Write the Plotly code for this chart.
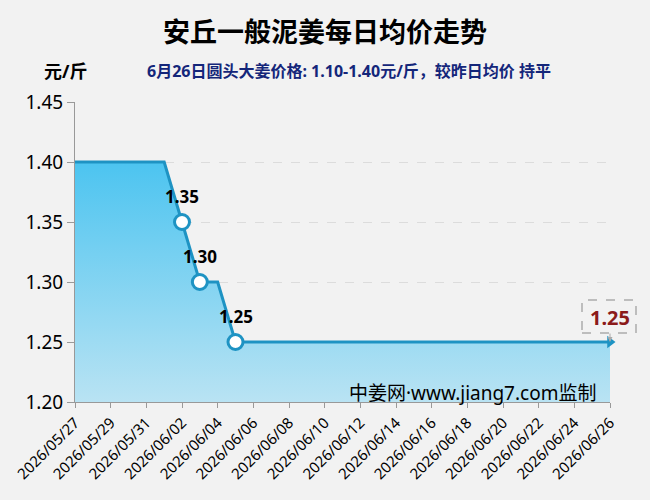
import plotly.graph_objects as go
import pandas as pd

dates = pd.date_range("2026-05-27", "2026-06-26", freq="D").strftime("%Y-%m-%d").tolist()
prices = [1.40, 1.40, 1.40, 1.40, 1.40, 1.40, 1.35, 1.30, 1.30, 1.25] + [1.25] * 21
label_dates = ["2026-06-02", "2026-06-03", "2026-06-05"]
label_prices = [1.35, 1.30, 1.25]
title_text = "安丘一般泥姜每日均价走势"
subtitle_text = "6月26日圆头大姜价格: 1.10-1.40元/斤，较昨日均价 持平"
unit_text = "元/斤"
watermark = "中姜网·www.jiang7.com监制"
last_label = "1.25"

FONT = "Noto Sans, Noto Sans CJK SC"
LINE = "#1e93c3"

fig = go.Figure()
fig.add_trace(go.Scatter(
    x=dates, y=prices, mode="lines",
    line=dict(color=LINE, width=3),
    fill="tozeroy",
    fillgradient=dict(type="vertical", start=1.20, stop=1.40,
                      colorscale=[[0, "#b9e3f3"], [1, "#4cc4f0"]]),
    hoverinfo="skip", showlegend=False,
))
fig.add_trace(go.Scatter(
    x=label_dates, y=label_prices, mode="markers",
    marker=dict(symbol="circle", size=15, color="white", line=dict(color=LINE, width=3)),
    showlegend=False, cliponaxis=False,
))
fig.add_trace(go.Scatter(
    x=[dates[-1]], y=[prices[-1]], mode="markers",
    marker=dict(symbol="triangle-right", size=11, color=LINE),
    showlegend=False, cliponaxis=False,
))

annotations = [
    dict(text=unit_text, xref="paper", yref="paper", x=(65 - 75) / 535, y=1 + 31 / 300,
         xanchor="center", yanchor="middle", showarrow=False,
         font=dict(family=FONT, size=18, color="black", weight="bold")),
    dict(text=subtitle_text, xref="paper", yref="paper", x=(349 - 75) / 535, y=1 + 31 / 300,
         xanchor="center", yanchor="middle", showarrow=False,
         font=dict(family=FONT, size=16, color="#14267a", weight="bold")),
    dict(text=watermark, xref="paper", yref="paper", x=(472 - 75) / 535, y=9 / 300,
         xanchor="center", yanchor="middle", showarrow=False,
         font=dict(family=FONT, size=19, color="black")),
    dict(text=f"<b>{last_label}</b>", x=dates[-1], y=prices[-1], xref="x", yref="y",
         showarrow=True, ax=0, ay=-25, arrowcolor="#aaa", arrowwidth=1, arrowhead=2,
         borderwidth=0, borderpad=3, bgcolor="rgba(0,0,0,0)",
         font=dict(family=FONT, size=20, color="#8b1a1a")),
]
for d, v in zip(label_dates, label_prices):
    annotations.append(dict(text=f"<b>{v:.2f}</b>", x=d, y=v, xref="x", yref="y",
                            showarrow=False, yshift=26,
                            font=dict(family=FONT, size=17, color="black")))

fig.update_layout(
    width=650, height=500,
    margin=dict(l=75, r=40, t=102, b=98),
    paper_bgcolor="#f2f2f2", plot_bgcolor="#f2f2f2",
    font=dict(family=FONT, color="black"),
    title=dict(text=title_text, x=0.5, xanchor="center", y=1 - 33 / 500, yanchor="middle",
               font=dict(family=FONT, size=27, color="black", weight="bold")),
    annotations=annotations,
    shapes=[
        dict(type="rect", xref="paper", yref="paper",
             x0=(582 - 75) / 535, x1=(636 - 75) / 535,
             y0=(402 - 333) / 300, y1=(402 - 300) / 300,
             line=dict(color="#888", width=1, dash="dash"), fillcolor="rgba(0,0,0,0)",
             layer="above"),
    ],
)
fig.update_xaxes(
    type="date", range=[dates[0], dates[-1]],
    tick0=dates[0], dtick=2 * 86400000, tickformat="%Y/%m/%d", tickangle=-45,
    showgrid=False, showline=True, linecolor="#999", linewidth=1,
    ticks="outside", ticklen=5, tickcolor="#999",
    tickfont=dict(family=FONT, size=15, color="black"),
)
fig.update_yaxes(
    range=[1.20, 1.45], dtick=0.05, tickformat=".2f",
    showgrid=True, gridcolor="#dcdcdc", griddash="dash", zeroline=False,
    showline=True, linecolor="#999", linewidth=1,
    ticks="outside", ticklen=7, tickcolor="#999",
    tickfont=dict(family=FONT, size=19, color="black"),
)
fig.write_html("out.html")
